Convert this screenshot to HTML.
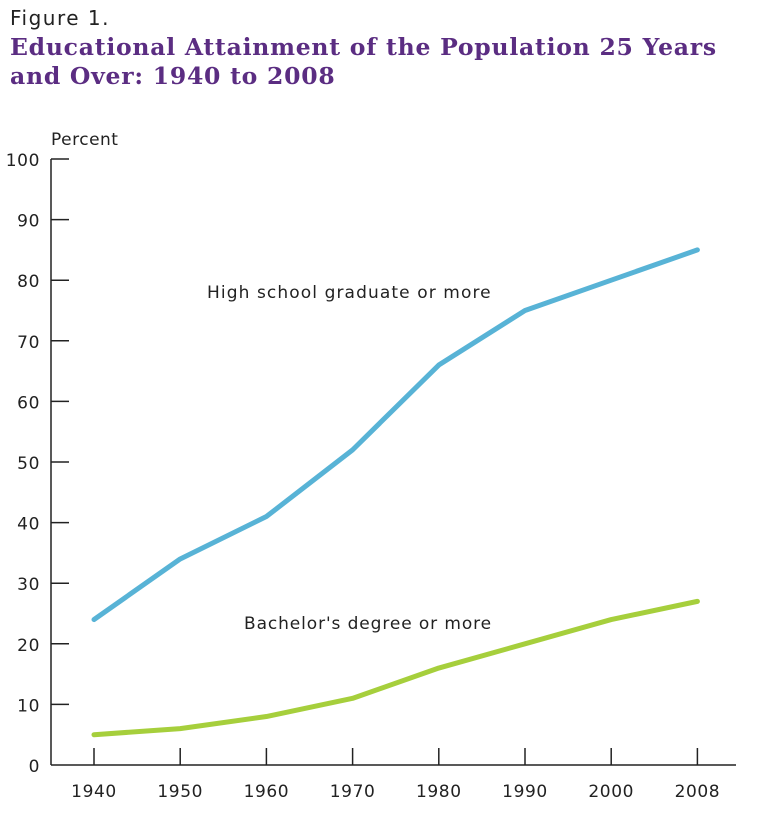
<!DOCTYPE html>
<html><head><meta charset="utf-8"><style>
body{margin:0;background:#fff;width:760px;height:812px;overflow:hidden}
svg text{font-family:"DejaVu Sans","Liberation Sans",sans-serif}
</style></head><body>
<svg width="760" height="812">
<text x="10" y="25" font-size="20" fill="#222" letter-spacing="1.5">Figure 1.</text>
<text x="10" y="55" font-size="23.5" font-weight="bold" fill="#5b2d82" letter-spacing="0.75" style="font-family:'DejaVu Serif','Liberation Serif',serif">Educational Attainment of the Population 25 Years</text>
<text x="10" y="84" font-size="23.5" font-weight="bold" fill="#5b2d82" letter-spacing="0.75" style="font-family:'DejaVu Serif','Liberation Serif',serif">and Over: 1940 to 2008</text>
<text x="51" y="145" font-size="17" fill="#222" letter-spacing="0.5">Percent</text>
<g id="axes"></g>
<g id="marks"></g>
<text x="207" y="298" font-size="17" fill="#222" letter-spacing="1.1">High school graduate or more</text>
<text x="244" y="629" font-size="17" fill="#222" letter-spacing="0.9">Bachelor's degree or more</text>
</svg>
<script>
const years=["1940","1950","1960","1970","1980","1990","2000","2008"];
const highSchool=[24,34,41,52,66,75,80,85];
const bachelors=[5,6,8,11,16,20,24,27];
const yTicks=[0,10,20,30,40,50,60,70,80,90,100];
const NS="http://www.w3.org/2000/svg";
const X0=51,Y0=765,Y100=159,XF=94,XS=86.2;
function xs(i){return XF+i*XS}
function ys(v){return Y0-(v/100)*(Y0-Y100)}
function mk(t,a,p){const e=document.createElementNS(NS,t);for(const k in a)e.setAttribute(k,a[k]);p.appendChild(e);return e}
const ax=document.getElementById('axes'),mg=document.getElementById('marks');
const yl=mk('line',{x1:X0,y1:Y100,x2:X0,y2:Y0,stroke:'#222','stroke-width':1.5},ax);


const xl=mk('line',{x1:X0,y1:Y0,x2:736,y2:Y0,stroke:'#222','stroke-width':1.5},ax);


yTicks.forEach(v=>{
 if(v>0){const t=mk('line',{x1:X0,y1:ys(v),x2:X0+18,y2:ys(v),stroke:'#222','stroke-width':1.5},ax);
 
 }
 const l=mk('text',{x:40,y:ys(v)+7,'font-size':17,fill:'#222','text-anchor':'end','letter-spacing':0.6},ax);l.textContent=v;
 
 
});
years.forEach((y,i)=>{
 const t=mk('line',{x1:xs(i),y1:Y0,x2:xs(i),y2:Y0-17,stroke:'#222','stroke-width':1.5},ax);
 
 
 const l=mk('text',{x:xs(i),y:797,'font-size':17,fill:'#222','text-anchor':'middle','letter-spacing':0.6},ax);l.textContent=y;
 
 
});
function line(vals,col,name){
 const p=mk('polyline',{points:vals.map((v,i)=>xs(i)+','+ys(v)).join(' '),fill:'none',stroke:col,'stroke-width':5,'stroke-linejoin':'round','stroke-linecap':'round'},mg);
 
 
}
line(highSchool,'#58b3d6','high-school-line');
line(bachelors,'#a6cf3c','bachelors-line');
</script>
</body></html>
